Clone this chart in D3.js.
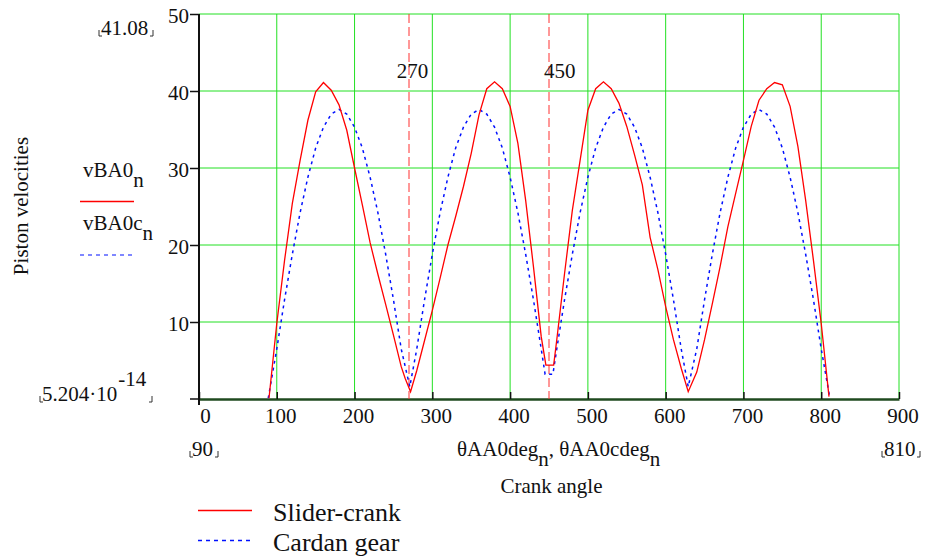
<!DOCTYPE html>
<html lang="en">
<head>
  <meta charset="UTF-8">
  <title>Piston velocities</title>
  <style>
    body { margin: 0; background: #fff; }
    svg text { font-family: "Liberation Serif", "DejaVu Serif", serif; fill: #111; }
  </style>
</head>
<body>
  <div class="warp"></div>
  <script src="https://cdn.jsdelivr.net/npm/d3@7"></script>
  <script>
    // slider-crank (red)
    var sliderX = [90,100,110,120,130,140,150,160,170,180,190,200,210,220,230,240,250,260,265,272,280,290,300,310,320,330,340,350,360,370,380,390,400,410,420,430,440,446,456,460,470,480,490,500,510,520,530,540,550,560,570,580,590,600,610,620,629,640,650,660,670,680,690,700,710,720,730,740,750,760,770,780,790,800,810];
    var sliderY = [0.1,9.8,18,25.4,31,36.2,39.9,41.1,40.1,38.2,34.9,30,25.2,20.3,16.2,12.3,8.3,4.2,2.7,0.95,3.7,7.6,11.5,15.7,20,23.7,27.6,31.9,36.9,40.3,41.2,40.3,38,33.2,25.8,17.2,8.1,4.4,4.4,7.7,16.3,24.5,31,37.5,40.3,41.2,40.3,38.4,35.4,31.7,27.8,21,16.8,12,7.7,4,0.95,3.5,7.7,12.4,17.2,22.4,26.7,31,35.4,38.8,40.3,41.1,40.8,38,32.8,25.8,18,9.8,0.3];
    // cardan gear (blue)
    var cardanX = [89,100,110,120,130,140,150,160,170,180,190,200,210,220,230,240,250,260,271,280,290,300,310,320,330,340,350,360,370,380,390,400,410,420,430,440,445,455,460,470,480,490,500,510,520,530,540,550,560,570,580,590,600,610,620,629,640,650,660,670,680,690,700,710,720,730,740,750,760,770,780,790,800,811];
    var cardanY = [0.1,6.5,12.9,18.8,24.2,28.8,32.6,35.3,37,37.6,37,35.3,32.6,28.8,24.2,18.8,12.9,6.5,1.6,6.5,12.9,18.8,24.2,28.8,32.6,35.3,37,37.6,37,35.3,32.6,28.8,24.2,18.8,12.9,6.5,3.2,3.2,6.5,12.9,18.8,24.2,28.8,32.6,35.3,37,37.6,37,35.3,32.6,28.8,24.2,18.8,12.9,6.5,1.6,6.5,12.9,18.8,24.2,28.8,32.6,35.3,37,37.6,37,35.3,32.6,28.8,24.2,18.8,12.9,6.5,0.2];
    var xTicks = [0,100,200,300,400,500,600,700,800,900];
    var yTicks = [10,20,30,40,50];
    var markers = [270, 450];

    var SERIF = '"Liberation Serif", "DejaVu Serif", serif';
    var FS = 21;
    var W = 927, H = 558;
    var svg = d3.select('.warp').append('svg').attr('width', W).attr('height', H)
      .style('font-family', SERIF);

    var x = d3.scaleLinear().domain([0, 900]).range([199, 899]);
    var y = d3.scaleLinear().domain([0, 50]).range([399, 14]);

    // grid
    svg.append('g').selectAll('line.vg').data(xTicks.slice(1)).enter().append('line')
      .attr('x1', d => x(d)).attr('x2', d => x(d)).attr('y1', y(50)).attr('y2', y(0))
      .attr('stroke', '#22e022').attr('stroke-width', 1);
    svg.append('g').selectAll('line.hg').data(yTicks).enter().append('line')
      .attr('x1', x(0)).attr('x2', x(900)).attr('y1', d => y(d)).attr('y2', d => y(d))
      .attr('stroke', '#22e022').attr('stroke-width', 1);

    // axes
    var xAxis = svg.append('g').attr('transform', 'translate(0,' + y(0) + ')')
      .call(d3.axisBottom(x).tickValues(xTicks).tickSizeInner(-7).tickSizeOuter(0).tickPadding(9));
    xAxis.attr('font-family', SERIF);
    xAxis.select('.domain').attr('stroke', '#1f4a1f').attr('stroke-width', 2.5);
    xAxis.selectAll('.tick line').attr('stroke', '#111').attr('stroke-width', 1.5);
    xAxis.selectAll('.tick text').attr('font-size', FS).attr('dx', (d, i) => i === 0 ? 6 : 3.5)
      .style('font-family', SERIF).attr('fill', '#111');

    var yAxis = svg.append('g').attr('transform', 'translate(' + x(0) + ',0)')
      .call(d3.axisLeft(y).tickValues(yTicks).tickSizeInner(9).tickSizeOuter(0).tickPadding(1));
    yAxis.attr('font-family', SERIF);
    yAxis.select('.domain').attr('stroke', '#111').attr('stroke-width', 2).attr('d', 'M0,' + y(50) + 'V' + (y(0) + 6));
    yAxis.selectAll('.tick line').attr('stroke', '#111').attr('stroke-width', 1.5);
    yAxis.selectAll('.tick text').attr('font-size', FS).attr('dy', '0.42em').style('font-family', SERIF).attr('fill', '#111');
    // tick at zero on the left
    svg.append('line').attr('x1', x(0) - 9).attr('x2', x(0)).attr('y1', y(0)).attr('y2', y(0))
      .attr('stroke', '#111').attr('stroke-width', 1.5);

    // marker lines
    svg.append('g').selectAll('line').data(markers).enter().append('line')
      .attr('x1', d => x(d)).attr('x2', d => x(d)).attr('y1', y(50)).attr('y2', y(0))
      .attr('stroke', '#ff3030').attr('stroke-width', 1).attr('stroke-dasharray', '9,4');
    svg.append('g').selectAll('text').data(markers).enter().append('text')
      .attr('x', (d, i) => x(d) + (i === 0 ? 3.5 : 10.7)).attr('y', 78)
      .attr('text-anchor', 'middle').attr('font-size', FS).text(d => d);

    // curves
    var line = d3.line().x(d => x(d[0])).y(d => y(d[1]));
    svg.append('path').datum(d3.zip(cardanX, cardanY)).attr('d', line)
      .attr('fill', 'none').attr('stroke', '#0010ff').attr('stroke-width', 1.5).attr('stroke-dasharray', '3,4');
    svg.append('path').datum(d3.zip(sliderX, sliderY)).attr('d', line)
      .attr('fill', 'none').attr('stroke', '#ff0000').attr('stroke-width', 1.3);

    // little corner brackets used around limits
    function corners(x1, x2, yb) {
      var p = 'M' + x1 + ',' + (yb - 6) + 'V' + yb + 'H' + (x1 + 3) +
              'M' + x2 + ',' + (yb - 6) + 'V' + yb + 'H' + (x2 - 3);
      svg.append('path').attr('d', p).attr('fill', 'none').attr('stroke', '#333').attr('stroke-width', 1);
    }

    // y limits
    svg.append('text').attr('x', 101).attr('y', 35).attr('font-size', FS).text('41.08');
    corners(99, 153, 36);
    var lo = svg.append('text').attr('x', 42).attr('y', 401).attr('font-size', FS);
    lo.append('tspan').text('5.204\u00b710');
    lo.append('tspan').attr('dy', -15).attr('dx', 1).text('-14');
    corners(40, 152, 402);

    // x limits
    svg.append('text').attr('x', 192).attr('y', 456).attr('font-size', FS).text('90');
    corners(190, 218, 457);
    svg.append('text').attr('x', 884).attr('y', 456).attr('font-size', FS).text('810');
    corners(882, 920, 457);

    // x expression
    var xe = svg.append('text').attr('x', 457).attr('y', 456).attr('font-size', FS);
    xe.append('tspan').text('\u03b8AA0deg');
    xe.append('tspan').attr('dy', 10).text('n');
    xe.append('tspan').attr('dy', -10).text(', \u03b8AA0cdeg');
    xe.append('tspan').attr('dy', 10).text('n');

    svg.append('text').attr('x', 551.5).attr('y', 493).attr('text-anchor', 'middle')
      .attr('font-size', FS).text('Crank angle');

    // y label
    svg.append('text').attr('transform', 'translate(28,206) rotate(-90)')
      .attr('text-anchor', 'middle').attr('font-size', 21).text('Piston velocities');

    // series names on the left
    var s1 = svg.append('text').attr('x', 83).attr('y', 177).attr('font-size', FS);
    s1.append('tspan').text('vBA0');
    s1.append('tspan').attr('dy', 10).text('n');
    svg.append('line').attr('x1', 80).attr('x2', 134).attr('y1', 201.5).attr('y2', 201.5)
      .attr('stroke', '#ff0000').attr('stroke-width', 1.3);
    var s2 = svg.append('text').attr('x', 83).attr('y', 230).attr('font-size', FS);
    s2.append('tspan').text('vBA0c');
    s2.append('tspan').attr('dy', 10).text('n');
    svg.append('line').attr('x1', 80).attr('x2', 132).attr('y1', 255).attr('y2', 255)
      .attr('stroke', '#0010ff').attr('stroke-width', 1.2).attr('stroke-dasharray', '4,4');

    // legend
    var legend = [
      { name: 'Slider-crank', color: '#ff0000', dash: null },
      { name: 'Cardan gear', color: '#0010ff', dash: '4,4' }
    ];
    var lg = svg.append('g').selectAll('g').data(legend).enter().append('g')
      .attr('transform', (d, i) => 'translate(0,' + (510.5 + i * 30) + ')');
    lg.append('line').attr('x1', 198).attr('x2', 252).attr('y1', 0).attr('y2', 0)
      .attr('stroke', d => d.color).attr('stroke-width', 1.3).attr('stroke-dasharray', d => d.dash);
    lg.append('text').attr('x', 273).attr('y', 10).attr('font-size', 26).text(d => d.name);
  </script>
</body>
</html>
